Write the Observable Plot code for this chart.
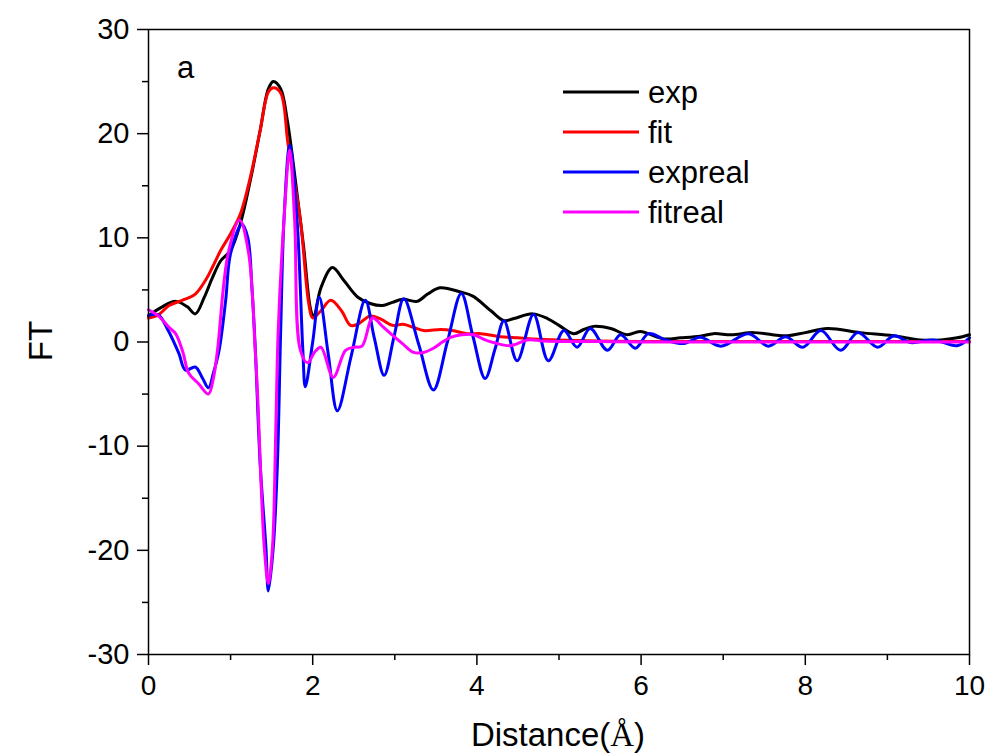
<!DOCTYPE html>
<html><head><meta charset="utf-8">
<script src="https://cdn.jsdelivr.net/npm/d3@7"></script>
<script src="https://cdn.jsdelivr.net/npm/@observablehq/plot@0.6"></script>
<style>body{margin:0;background:#fff} svg{display:block}</style>
</head><body><div id="chart"></div>
<script>
const seriesNames = ["exp", "fit", "expreal", "fitreal"];
const seriesColors = ["#000000", "#ff0000", "#0000ff", "#ff00ff"];
const xTicks = [0, 2, 4, 6, 8, 10];
const xMinorTicks = [1, 3, 5, 7, 9];
const yTicks = [-30, -20, -10, 0, 10, 20, 30];
const yMinorTicks = [-25, -15, -5, 5, 15, 25];
const panelLabel = "a";
const xLabel = "Distance(";
const xLabelUnit = "Å";
const yLabel = "FT";

const expX = [0,0.15,0.33,0.47,0.57,0.68,0.78,0.88,1.0,1.12,1.24,1.36,1.46,1.52,1.61,1.69,1.81,1.89,1.97,2.01,2.1,2.24,2.38,2.55,2.7,2.85,2.97,3.1,3.27,3.4,3.55,3.8,3.95,4.17,4.33,4.45,4.68,4.86,5.0,5.18,5.3,5.42,5.63,5.83,5.99,6.27,6.48,6.72,6.88,7.1,7.37,7.6,7.78,8.0,8.27,8.67,9.07,9.4,9.65,9.85,10];
const expY = [2.5,3.3,3.9,3.4,2.7,4.3,6.2,7.8,8.8,11.4,15.5,20.3,24.3,25.0,24.3,21.3,14.2,9.1,3.3,2.35,5.2,7.15,5.9,4.3,3.7,3.5,3.8,4.1,3.9,4.6,5.2,4.8,4.4,3.0,2.05,2.25,2.7,2.25,1.6,0.8,1.2,1.5,1.3,0.7,1.0,0.3,0.4,0.55,0.8,0.7,0.9,0.7,0.6,0.9,1.3,0.9,0.6,0.2,0.2,0.4,0.7];

const fitX = [0,0.12,0.25,0.41,0.57,0.7,0.78,0.88,1.0,1.12,1.24,1.36,1.46,1.52,1.61,1.7,1.85,1.95,2.0,2.1,2.22,2.35,2.46,2.55,2.7,2.83,2.97,3.1,3.23,3.35,3.56,3.7,3.88,4.05,4.29,4.5,4.69,5.0,5.5,6,7,8,9,10];
const fitY = [2.3,2.6,3.5,4.0,4.6,6.0,7.2,8.8,10.4,12.3,15.8,20.3,24.0,24.4,23.9,19.0,11.7,3.8,2.3,3.0,4.0,3.0,1.6,1.7,2.5,2.2,1.6,1.7,1.4,1.1,1.2,1.1,0.8,0.8,0.5,0.4,0.3,0.2,0.1,0.05,0.05,0.05,0.05,0.05];

const exprealX = [0,0.12,0.24,0.37,0.45,0.57,0.66,0.73,0.79,0.86,0.94,1.0,1.14,1.21,1.26,1.30,1.36,1.43,1.46,1.52,1.57,1.61,1.65,1.72,1.81,1.88,1.91,2.0,2.08,2.19,2.3,2.47,2.64,2.75,2.87,2.99,3.11,3.29,3.47,3.64,3.81,3.95,4.1,4.22,4.33,4.49,4.69,4.87,5.06,5.22,5.38,5.59,5.75,5.93,6.09,6.3,6.52,6.72,6.97,7.31,7.55,7.76,7.97,8.19,8.43,8.64,8.88,9.08,9.28,9.56,9.85,10];
const exprealY = [2.55,2.6,1.1,-1.1,-2.7,-2.4,-3.5,-4.4,-3.0,-0.8,4.0,8.5,11.3,10.0,5.2,-0.5,-11.7,-19.7,-23.9,-19.7,-11.7,1.1,11.7,18.9,11.7,-0.8,-4.3,0,4.3,-1.2,-6.6,-1.3,4.0,0.4,-3.2,0.5,4.15,-0.2,-4.6,0,4.65,0.6,-3.5,-0.7,2.05,-1.8,2.65,-1.8,1.1,-0.5,1.3,-0.8,0.7,-0.6,0.8,0.2,-0.15,0.45,-0.4,0.8,-0.4,0.5,-0.5,1.1,-0.8,0.9,-0.5,0.6,-0.05,0.2,-0.35,0.4];

const fitrealX = [0,0.12,0.25,0.33,0.42,0.49,0.61,0.73,0.79,0.84,0.97,1.11,1.22,1.30,1.33,1.41,1.46,1.51,1.55,1.58,1.65,1.72,1.78,1.85,1.94,2.02,2.10,2.25,2.4,2.5,2.6,2.73,2.85,2.95,3.1,3.23,3.35,3.47,3.58,3.68,3.82,3.96,4.1,4.2,4.41,4.62,4.8,5.0,5.5,6,7,8,9,10];
const fitrealY = [3.1,2.5,1.4,0.8,-1.0,-3.0,-4.0,-5.0,-3.5,-0.8,8.5,11.7,8.5,-0.8,-5.3,-19.7,-23.2,-19.7,-8.5,1.1,11.7,18.4,11.7,-0.8,-2.0,-1.0,-0.5,-3.4,-0.8,-0.5,-0.4,2.3,1.5,0.8,-0.2,-1.0,-1.0,-0.6,0,0.45,0.7,0.7,0.2,-0.05,-0.35,0.2,0.1,0.05,0.05,0,0,0,0,0];

const toRows = (name, xs, ys) => xs.map((x, i) => ({series: name, x, y: ys[i]}));
const rows = [
  ...toRows("exp", expX, expY),
  ...toRows("fit", fitX, fitY),
  ...toRows("expreal", exprealX, exprealY),
  ...toRows("fitreal", fitrealX, fitrealY)
];

const font = "'Liberation Sans', Arial, sans-serif";
const chart = Plot.plot({
  width: 987,
  height: 756,
  marginLeft: 148,
  marginRight: 18,
  marginTop: 29,
  marginBottom: 102,
  style: {fontFamily: font, background: "#fff", color: "#000", overflow: "visible"},
  x: {domain: [0, 10]},
  y: {domain: [-30, 30]},
  color: {domain: seriesNames, range: seriesColors},
  marks: [
    Plot.axisY({ticks: yMinorTicks, tickSize: 6, tickFormat: () => "", label: null, strokeWidth: 1.5}),
    Plot.axisY({ticks: yTicks, tickSize: 11, tickPadding: 8, fontSize: 29, label: null, strokeWidth: 1.5, tickFormat: d => String(d)}),
    Plot.axisX({ticks: xMinorTicks, tickSize: 6, tickFormat: () => "", label: null, strokeWidth: 1.5}),
    Plot.axisX({ticks: xTicks, tickSize: 11, tickPadding: 10, fontSize: 28, label: null, strokeWidth: 1.5, tickFormat: d => String(d)}),
    Plot.line(rows, {x: "x", y: "y", z: "series", stroke: "series", strokeWidth: 3, curve: "catmull-rom"}),
    Plot.frame({stroke: "#000", strokeWidth: 1.5})
  ]
});
document.getElementById("chart").appendChild(chart);

const svg = d3.select(chart);
// panel label
svg.append("text").attr("x", 177).attr("y", 78).attr("text-anchor", "start").attr("font-family", font).attr("font-size", 31).attr("fill", "#000").text(panelLabel);
// y title
svg.append("text").attr("transform", "translate(40,341) rotate(-90)").attr("text-anchor", "middle").attr("dominant-baseline", "central")
  .attr("font-family", font).attr("font-size", 33).attr("fill", "#000").text(yLabel);
// x title
const xt = svg.append("text").attr("x", 558).attr("y", 746).attr("text-anchor", "middle").attr("font-family", font).attr("font-size", 33).attr("fill", "#000");
xt.append("tspan").text(xLabel);
xt.append("tspan").attr("font-family", "'Liberation Serif', 'DejaVu Serif', serif").text(xLabelUnit);
xt.append("tspan").text(")");
// legend
const lg = svg.append("g");
seriesNames.forEach((name, i) => {
  const yy = 92 + 40 * i;
  lg.append("line").attr("x1", 563).attr("x2", 639).attr("y1", yy).attr("y2", yy).attr("stroke", seriesColors[i]).attr("stroke-width", 3);
  lg.append("text").attr("x", 648).attr("y", yy).attr("dy", "0.35em").attr("text-anchor", "start").attr("font-family", font).attr("font-size", 31).attr("fill", "#000").text(name);
});
</script>
</body></html>
